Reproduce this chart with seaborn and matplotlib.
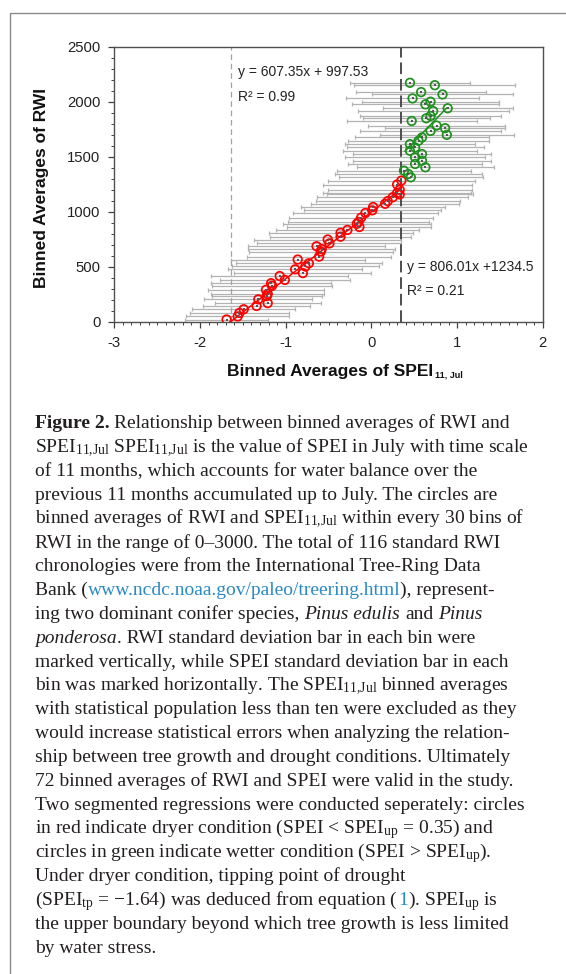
import matplotlib
matplotlib.use("Agg")
import matplotlib.pyplot as plt
import seaborn as sns
from matplotlib.ticker import MultipleLocator
from matplotlib.patches import Rectangle

# ---------------- data ----------------
red_spei = [-1.69, -1.56, -1.54, -1.49, -1.34, -1.21, -1.32, -1.22, -1.21, -1.23,
            -1.16, -1.17, -1.01, -1.07, -0.80, -0.89, -0.77, -0.73, -0.86, -0.61,
            -0.59, -0.58, -0.64, -0.49, -0.51, -0.36, -0.36, -0.28, -0.14, -0.17,
            -0.15, -0.12, -0.07, 0.01, 0.02, 0.16, 0.19, 0.25, 0.33, 0.30,
            0.33, 0.30, 0.35]
red_rwi = [20, 48, 80, 113, 143, 169, 203, 233, 253, 290,
           326, 350, 380, 415, 442, 476, 502, 531, 565, 592,
           638, 660, 686, 712, 747, 773, 808, 834, 861, 890,
           907, 946, 988, 1012, 1042, 1072, 1096, 1132, 1157, 1170,
           1199, 1247, 1283]
red_sd = [0.48, 0.60, 0.58, 0.60, 0.62, 0.62, 0.63, 0.64, 0.66, 0.68,
          0.70, 0.70, 0.76, 0.80, 0.80, 0.78, 0.86, 0.85, 0.78, 0.84,
          0.84, 0.86, 0.80, 0.84, 0.86, 0.82, 0.84, 0.83, 0.84, 0.86,
          0.82, 0.84, 0.85, 0.80, 0.84, 0.86, 0.84, 0.88, 0.85, 0.86,
          0.84, 0.87, 0.86]

green_spei = [0.46, 0.43, 0.38, 0.63, 0.51, 0.59, 0.51, 0.59, 0.45, 0.51,
              0.45, 0.55, 0.59, 0.88, 0.69, 0.86, 0.76, 0.47, 0.64, 0.69,
              0.72, 0.89, 0.63, 0.69, 0.48, 0.83, 0.58, 0.74, 0.45]
green_rwi = [1313, 1343, 1373, 1404, 1434, 1464, 1494, 1524, 1554, 1584,
             1614, 1645, 1675, 1699, 1735, 1759, 1783, 1825, 1849, 1870,
             1915, 1940, 1976, 2000, 2030, 2066, 2087, 2150, 2172]
green_sd = [0.84, 0.86, 0.78, 0.80, 0.78, 0.80, 0.82, 0.80, 0.78, 0.80,
            0.76, 0.82, 0.78, 0.78, 0.82, 0.70, 0.80, 0.76, 0.74, 0.82,
            0.88, 0.76, 0.86, 0.80, 0.78, 0.82, 0.76, 0.94, 0.70]

red_fit = (607.35, 997.53)
red_fit_range = [-1.69, 0.35]
green_fit = (806.01, 1234.5)
green_fit_range = [0.39, 0.88]
spei_tp = -1.64
spei_up = 0.35

x_ticks = [-3, -2, -1, 0, 1, 2]
y_ticks = [0, 500, 1000, 1500, 2000, 2500]

red_eq = ["y = 607.35x + 997.53", "R² = 0.99"]
green_eq = ["y = 806.01x +1234.5", "R² = 0.21"]

caption_lines = [
    [("Figure 2.", "bold"), (" Relationship between binned averages of RWI and", "reg")],
    "SPEI$_{11{,}Jul}$ SPEI$_{11{,}Jul}$ is the value of SPEI in July with time scale",
    "of 11 months, which accounts for water balance over the",
    "previous 11 months accumulated up to July. The circles are",
    "binned averages of RWI and SPEI$_{11{,}Jul}$ within every 30 bins of",
    "RWI in the range of 0–3000. The total of 116 standard RWI",
    "chronologies were from the International Tree-Ring Data",
    [("Bank (", "reg"), ("www.ncdc.noaa.gov/paleo/treering.html", "link"), ("), represent-", "reg")],
    [("ing two dominant conifer species, ", "reg"), ("Pinus edulis", "it"), (" and ", "reg"), ("Pinus", "it")],
    [("ponderosa", "it"), (". RWI standard deviation bar in each bin were", "reg")],
    "marked vertically, while SPEI standard deviation bar in each",
    "bin was marked horizontally. The SPEI$_{11{,}Jul}$ binned averages",
    "with statistical population less than ten were excluded as they",
    "would increase statistical errors when analyzing the relation-",
    "ship between tree growth and drought conditions. Ultimately",
    "72 binned averages of RWI and SPEI were valid in the study.",
    "Two segmented regressions were conducted seperately: circles",
    "in red indicate dryer condition (SPEI < SPEI$_{up}$ = 0.35) and",
    "circles in green indicate wetter condition (SPEI > SPEI$_{up}$).",
    "Under dryer condition, tipping point of drought",
    [("(SPEI$_{tp}$ = −1.64) was deduced from equation (", "reg"), ("1", "link"), ("). SPEI$_{up}$ is", "reg")],
    "the upper boundary beyond which tree growth is less limited",
    "by water stress.",
]

# ---------------- style ----------------
sns.set_theme(style="ticks")
plt.rcParams['font.family'] = ['Liberation Sans', 'DejaVu Sans']
plt.rcParams['mathtext.default'] = 'regular'
plt.rcParams['axes.unicode_minus'] = False

W, H = 566, 974
fig = plt.figure(figsize=(W / 100, H / 100), dpi=100)


def fx(px):
    return px / W


def fy(py):
    return 1 - py / H


AX_L, AX_R, AX_T, AX_B = 114.3, 542.8, 46.7, 321.7
ax = fig.add_axes([fx(AX_L), fy(AX_B), (AX_R - AX_L) / W, (AX_B - AX_T) / H])

# horizontal SPEI SD bars
for xs, ys, sd in [(red_spei, red_rwi, red_sd), (green_spei, green_rwi, green_sd)]:
    eb = ax.errorbar(xs, ys, xerr=sd, fmt='none', ecolor='#b3b3b3',
                     elinewidth=0.9, capsize=1.3, capthick=0.9, zorder=1)
    for c in eb[1]:
        c.set_color('#5a5a5a')

# threshold lines
ax.axvline(spei_tp, color='#a3a3a3', lw=0.9, ls=(0, (4.5, 3)), zorder=2)
ax.axvline(spei_up, color='#4d4d4d', lw=1.4, ls=(0, (6, 2.5)), zorder=2)

# regression lines
for rng, (a, b), col in [(red_fit_range, red_fit, '#ff0000'),
                         (green_fit_range, green_fit, '#1f8f1f')]:
    sns.lineplot(x=rng, y=[a * v + b for v in rng], ax=ax, color=col,
                 lw=1.1, zorder=4, legend=False)

# circles
sns.scatterplot(x=red_spei, y=red_rwi, ax=ax, marker='o', s=38,
                facecolor='none', edgecolor='#ff0000', linewidth=1.25, zorder=5)
sns.scatterplot(x=green_spei, y=green_rwi, ax=ax, marker='o', s=38,
                facecolor='none', edgecolor='#1f8f1f', linewidth=1.25, zorder=5)
# centre marks
sns.scatterplot(x=red_spei + green_spei, y=red_rwi + green_rwi, ax=ax,
                marker='s', s=2.5, color='#555555', linewidth=0, zorder=6)

# equations
eq_kw = dict(fontsize=10, color='#222222', ha='left', va='center', zorder=7)
ax.text(-1.557, 2270, red_eq[0], **eq_kw)
ax.text(-1.557, 2045, red_eq[1], **eq_kw)
ax.text(0.415, 500, green_eq[0], **eq_kw)
ax.text(0.415, 279, green_eq[1], **eq_kw)

# axes formatting
ax.set_xlim(x_ticks[0], x_ticks[-1])
ax.set_ylim(y_ticks[0], y_ticks[-1])
ax.set_xticks(x_ticks)
ax.set_yticks(y_ticks)
ax.xaxis.set_minor_locator(MultipleLocator(0.1))
ax.yaxis.set_minor_locator(MultipleLocator(100))
ax.tick_params(which='major', direction='out', length=4, width=0.9,
               color='#404040', labelsize=10.7, labelcolor='#222222', pad=6)
ax.tick_params(which='minor', direction='out', length=2.2, width=0.7,
               color='#404040')
for s in ax.spines.values():
    s.set_visible(True)
    s.set_color('#505050')
    s.set_linewidth(1.0)
ax.grid(False)

ax.set_ylabel("Binned Averages of RWI", fontsize=12.5, fontweight='bold',
              color='#111111', va='center')
ax.yaxis.set_label_coords((41.6 - AX_L) / (AX_R - AX_L), (AX_B - 187.6) / (AX_B - AX_T))
ax.set_xlabel("Binned Averages of SPEI", fontsize=12.5, fontweight='bold',
              color='#111111', ha='left', va='baseline')
ax.xaxis.set_label_coords((227.3 - AX_L) / (AX_R - AX_L), (AX_B - 375.5) / (AX_B - AX_T))

# outer frame (only left/top edges fall inside the image)
fig.add_artist(Rectangle((fx(9.5), -0.1), 2, fy(12.5) + 0.1, fill=False,
                         transform=fig.transFigure, ec='#8a8a8a', lw=1.0,
                         clip_on=False))

r = fig.canvas.get_renderer()

# x-label subscript
xl = ax.xaxis.label
bb = xl.get_window_extent(renderer=r)
fig.text(bb.x1 / W + 1.5 / W, fy(377.5), "11, Jul", fontsize=6.5, fontweight='bold',
         color='#111111', ha='left', va='baseline')

# ---------------- caption ----------------
cap_font = ['Liberation Serif', 'DejaVu Serif']
cap_fs = 14
styles = {
    'reg': dict(color='#231f20'),
    'bold': dict(color='#231f20', fontweight='bold'),
    'it': dict(color='#231f20', fontstyle='italic'),
    'link': dict(color='#2a8ac4'),
}


def tw(s, **kw):
    t = fig.text(0, 0, s, fontsize=cap_fs, family=cap_font, **kw)
    w = t.get_window_extent(renderer=r).width
    t.remove()
    return w


space = tw("n n") - tw("nn")
b0, step, x0 = 428.3, 23.85, 35.0
for i, line in enumerate(caption_lines):
    yb = fy(b0 + i * step)
    segs = line if isinstance(line, list) else [(line, 'reg')]
    x = x0
    for s, st in segs:
        if s.startswith(' '):
            x += space
        core = s.strip()
        t = fig.text(fx(x), yb, core, fontsize=cap_fs, family=cap_font,
                     ha='left', va='baseline', **styles[st])
        x += t.get_window_extent(renderer=r).width
        if s.endswith(' '):
            x += space

fig.savefig("out.png", dpi=100)
